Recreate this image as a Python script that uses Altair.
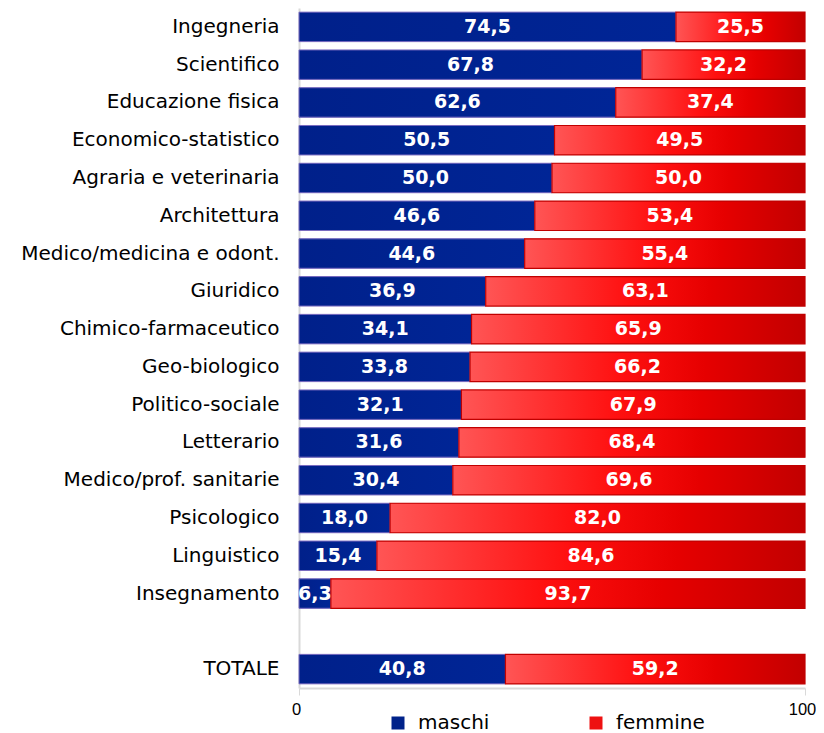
import altair as alt
import pandas as pd

categories = [
    "Ingegneria", "Scientifico", "Educazione fisica", "Economico-statistico",
    "Agraria e veterinaria", "Architettura", "Medico/medicina e odont.",
    "Giuridico", "Chimico-farmaceutico", "Geo-biologico", "Politico-sociale",
    "Letterario", "Medico/prof. sanitarie", "Psicologico", "Linguistico",
    "Insegnamento", "TOTALE",
]
maschi = [74.5, 67.8, 62.6, 50.5, 50.0, 46.6, 44.6, 36.9, 34.1, 33.8, 32.1,
          31.6, 30.4, 18.0, 15.4, 6.3, 40.8]
femmine = [25.5, 32.2, 37.4, 49.5, 50.0, 53.4, 55.4, 63.1, 65.9, 66.2, 67.9,
           68.4, 69.6, 82.0, 84.6, 93.7, 59.2]
series = ["maschi", "femmine"]
blank = " "
y_domain = categories[:-1] + [blank] + categories[-1:]

rows = []
for c, m, f in zip(categories, maschi, femmine):
    rows.append({"cat": c, "sesso": "maschi", "ord": 0, "val": m,
                 "lab": f"{m:.1f}".replace(".", ",")})
    rows.append({"cat": c, "sesso": "femmine", "ord": 1, "val": f,
                 "lab": f"{f:.1f}".replace(".", ",")})
df = pd.DataFrame(rows)

FONT = "DejaVu Sans"

base = alt.Chart(df).transform_stack(
    stack="val", as_=["s", "e"], groupby=["cat"], sort=[alt.SortField("ord")]
).transform_calculate(mid="(datum.s + datum.e) / 2")

yenc = alt.Y("cat:N", scale=alt.Scale(domain=y_domain, paddingInner=0.22, paddingOuter=0.11),
             axis=alt.Axis(title=None, labelFontSize=20, labelFont=FONT, labelColor="#000000",
                           labelPadding=20, labelLimit=400, ticks=False,
                           domainColor="#d9d9d9", domainWidth=2))
xenc = alt.X("s:Q", scale=alt.Scale(domain=[0, 100], nice=False),
             axis=alt.Axis(title=None, values=[0, 100], grid=False, labelFontSize=16.5,
                           labelFont="Liberation Sans", labelColor="#000000",
                           labelFlush=False, labelOffset=-3,
                           domainColor="#d9d9d9", domainWidth=2, tickColor="#d9d9d9",
                           tickSize=7, labelPadding=6))

legend_layer = base.mark_bar().encode(
    y=yenc, x=xenc, x2="e:Q",
    color=alt.Color("sesso:N", scale=alt.Scale(domain=series, range=["#00228a", "#ee1111"]),
                    legend=alt.Legend(title=None, orient="none", direction="horizontal",
                                      legendX=89, legendY=705, symbolType="square",
                                      symbolSize=169, labelFontSize=20, labelFont=FONT,
                                      labelColor="#000000", labelOffset=10,
                                      columnPadding=96, symbolStrokeWidth=1)),
)

blue_grad = alt.LinearGradient(gradient="linear", x1=0, x2=1, y1=0, y2=0, stops=[
    alt.GradientStop(offset=0, color="#00208a"),
    alt.GradientStop(offset=1, color="#002596"),
])
red_grad = alt.LinearGradient(gradient="linear", x1=0, x2=1, y1=0, y2=0, stops=[
    alt.GradientStop(offset=0, color="#ff5555"),
    alt.GradientStop(offset=0.45, color="#ff1010"),
    alt.GradientStop(offset=0.7, color="#e60000"),
    alt.GradientStop(offset=1, color="#c20000"),
])

blue_layer = base.transform_filter(alt.datum.sesso == "maschi").mark_bar(
    fill=blue_grad, stroke="#7a6cc0", strokeWidth=1
).encode(y=yenc, x=xenc, x2="e:Q")

red_layer = base.transform_filter(alt.datum.sesso == "femmine").mark_bar(
    fill=red_grad, stroke="#c00000", strokeWidth=1.2
).encode(y=yenc, x=xenc, x2="e:Q")

text_layer = base.mark_text(
    color="white", font=FONT, fontWeight="bold", fontSize=19, align="center", baseline="middle"
).encode(y=yenc, x=alt.X("mid:Q"), text="lab:N")

chart = alt.layer(legend_layer, blue_layer, red_layer, text_layer).properties(
    width=506, height=680, autosize="none",
    padding={"left": 291, "top": 0, "right": 11, "bottom": 45},
).configure_view(stroke=None)

chart.save("out.html", embed_options={"renderer": "svg", "actions": False})
